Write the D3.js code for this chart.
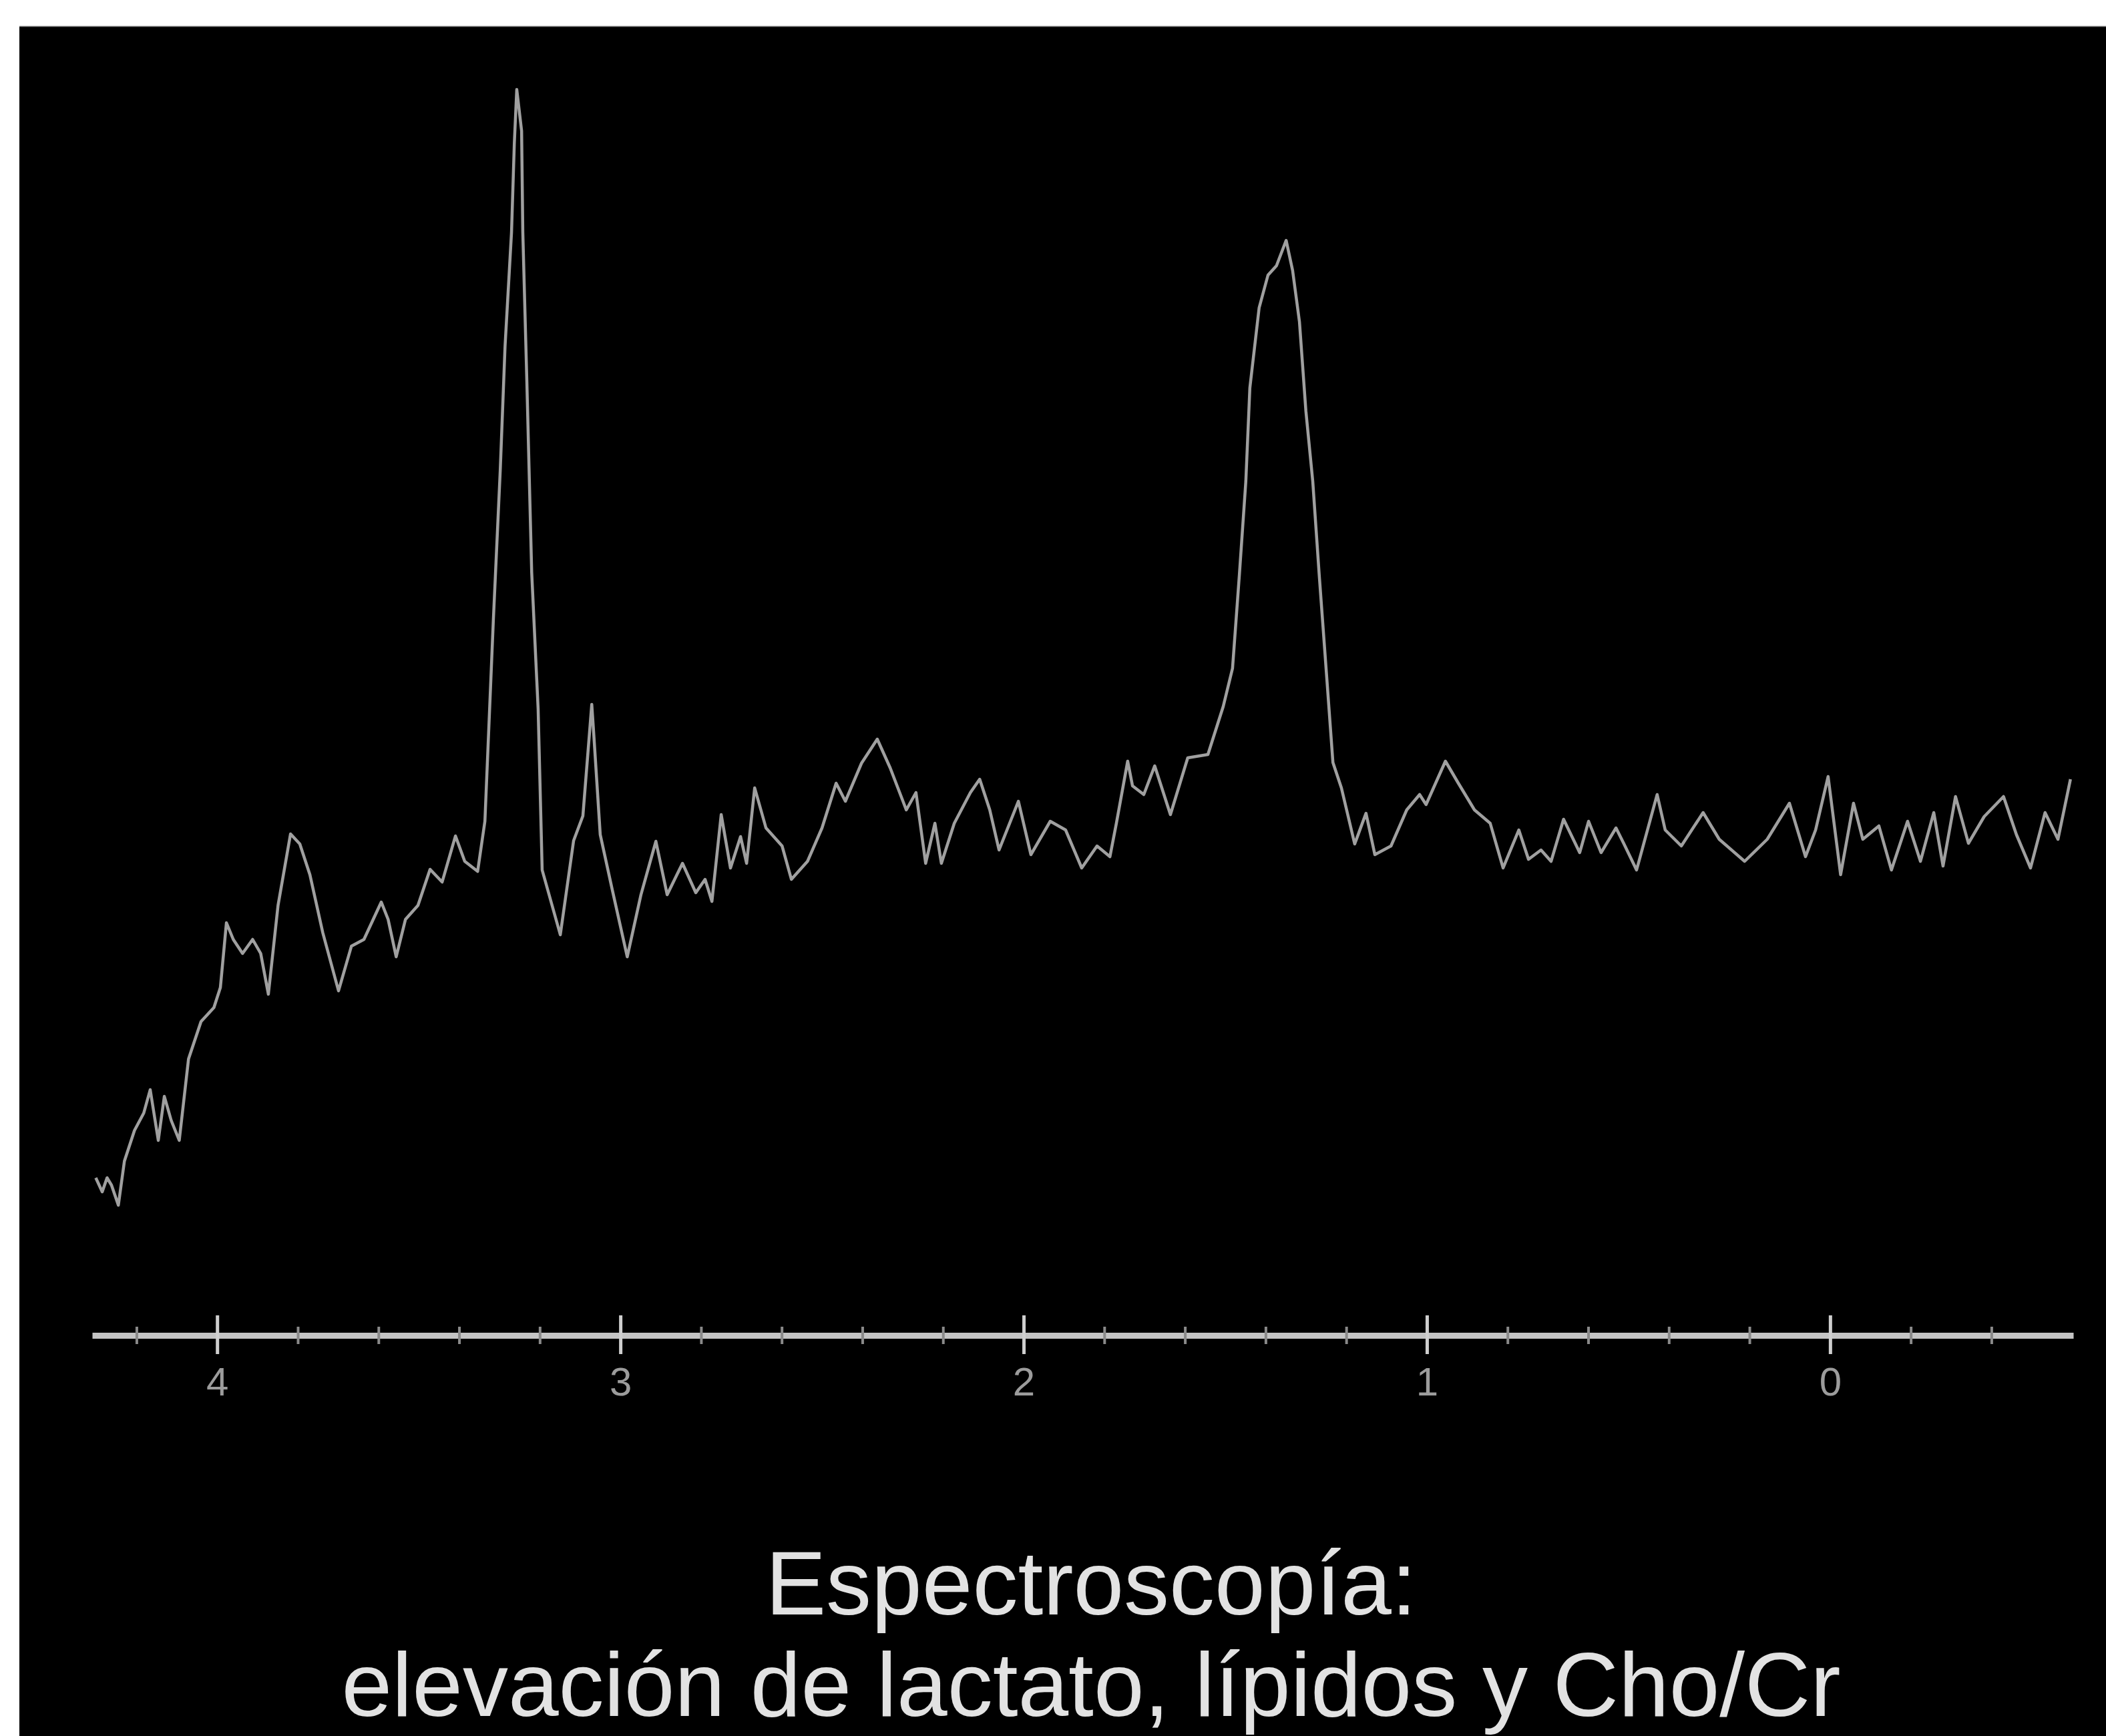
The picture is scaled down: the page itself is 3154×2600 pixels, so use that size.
<!DOCTYPE html>
<html>
<head>
<meta charset="utf-8">
<script src="https://cdn.jsdelivr.net/npm/d3@7"></script>
<style>
  body { margin: 0; background: #fff; }
  .chart svg { display: block; }
</style>
</head>
<body>
<div class="chart"></div>
<script>
// Chemical shift (ppm) of each traced point, left to right
var ppm = [
  4.301, 4.285, 4.273, 4.262, 4.245, 4.230, 4.205, 4.182, 4.166, 4.146,
  4.131, 4.114, 4.094, 4.071, 4.040, 4.008, 3.992, 3.977, 3.960, 3.937,
  3.912, 3.892, 3.873, 3.849, 3.818, 3.795, 3.770, 3.738, 3.699, 3.667,
  3.636, 3.613, 3.593, 3.576, 3.556, 3.533, 3.502, 3.472, 3.442, 3.409,
  3.386, 3.354, 3.336, 3.315, 3.298, 3.286, 3.270, 3.263, 3.257, 3.245,
  3.242, 3.232, 3.220, 3.204, 3.194, 3.149, 3.116, 3.093, 3.071, 3.066,
  3.050, 3.020, 2.983, 2.949, 2.912, 2.884, 2.846, 2.813, 2.790, 2.773,
  2.750, 2.727, 2.702, 2.687, 2.667, 2.639, 2.599, 2.576, 2.536, 2.500,
  2.465, 2.442, 2.402, 2.363, 2.331, 2.291, 2.267, 2.243, 2.220, 2.204,
  2.172, 2.132, 2.109, 2.084, 2.061, 2.013, 1.982, 1.934, 1.896, 1.856,
  1.818, 1.786, 1.770, 1.742, 1.730, 1.702, 1.675, 1.636, 1.593, 1.543,
  1.505, 1.482, 1.465, 1.449, 1.439, 1.416, 1.394, 1.373, 1.349, 1.333,
  1.316, 1.300, 1.283, 1.267, 1.250, 1.233, 1.212, 1.179, 1.151, 1.129,
  1.089, 1.050, 1.018, 1.002, 0.954, 0.922, 0.882, 0.843, 0.811, 0.772,
  0.748, 0.717, 0.692, 0.661, 0.621, 0.599, 0.568, 0.531, 0.512, 0.480,
  0.429, 0.409, 0.369, 0.315, 0.275, 0.212, 0.156, 0.101, 0.061, 0.036,
  0.005, -0.026, -0.058, -0.081, -0.121, -0.152, -0.192, -0.224, -0.257, -0.280,
  -0.311, -0.343, -0.382, -0.430, -0.462, -0.497, -0.533, -0.565, -0.596
];

// Signal amplitude (arbitrary units) at each point
var amplitude = [
  23.6, 21.5, 23.6, 22.5, 19.5, 26.1, 30.7, 33.3, 36.8, 29.2,
  35.8, 32.2, 29.2, 41.4, 47.0, 49.1, 52.1, 61.8, 59.3, 57.2,
  59.3, 57.2, 51.1, 64.4, 75.1, 73.6, 69.0, 60.3, 51.6, 58.3,
  59.3, 62.3, 64.9, 62.3, 56.7, 62.3, 64.4, 69.8, 67.9, 74.8,
  71.0, 69.5, 77.0, 107.2, 129.5, 148.2, 165.2, 178.6, 186.6, 180.4,
  165.2, 142.9, 114.3, 93.8, 69.7, 60.0, 74.1, 77.8, 94.5, 90.0,
  75.0, 66.7, 56.7, 66.0, 74.0, 66.0, 70.7, 66.3, 68.3, 65.0,
  78.0, 70.0, 74.7, 70.7, 82.0, 76.0, 73.3, 68.3, 71.0, 76.0,
  82.7, 80.0, 85.7, 89.3, 85.0, 78.7, 81.3, 70.7, 76.7, 70.7,
  76.7, 81.3, 83.3, 78.7, 72.7, 80.0, 72.0, 77.0, 75.7, 70.0,
  73.3, 71.7, 76.7, 86.0, 82.3, 81.0, 85.3, 78.0, 86.5, 87.0,
  94.2, 99.9, 113.9, 127.9, 141.9, 153.9, 158.8, 160.2, 164.0, 159.5,
  151.8, 138.4, 127.9, 113.9, 99.9, 85.8, 82.0, 73.6, 78.2, 72.0,
  73.3, 78.7, 81.0, 79.5, 86.0, 82.7, 78.7, 76.7, 70.0, 75.7,
  71.3, 72.7, 71.0, 77.3, 72.3, 77.0, 72.3, 76.0, 73.7, 69.7,
  81.0, 75.7, 73.3, 78.3, 74.3, 71.0, 74.3, 79.7, 71.7, 75.7,
  83.7, 69.0, 79.7, 74.3, 76.3, 69.7, 77.0, 71.0, 78.3, 70.3,
  80.7, 73.7, 77.7, 80.7, 75.0, 70.0, 78.3, 74.3, 83.3
];

var majorTicks = [4, 3, 2, 1, 0];
var majorLabels = ["4", "3", "2", "1", "0"];
var minorTicks = [4.2, 3.8, 3.6, 3.4, 3.2, 2.8, 2.6, 2.4, 2.2, 1.8, 1.6, 1.4, 1.2,
  0.8, 0.6, 0.4, 0.2, -0.2, -0.4];

var titleLines = ["Espectroscopía:", "elevación de lactato, lípidos y Cho/Cr"];

var svgWidth = 3154;
var svgHeight = 2600;

var svg = d3.select(".chart")
  .append("svg")
  .attr("width", svgWidth)
  .attr("height", svgHeight);

// white page with the black panel of the scanner screenshot
svg.append("rect")
  .attr("width", svgWidth)
  .attr("height", svgHeight)
  .attr("fill", "#fff");

svg.append("rect")
  .attr("x", 29)
  .attr("y", 39)
  .attr("width", svgWidth - 29)
  .attr("height", svgHeight - 39)
  .attr("fill", "#000");

svg.append("line")
  .attr("x1", 29).attr("x2", svgWidth)
  .attr("y1", 39.5).attr("y2", 39.5)
  .attr("stroke", "#888")
  .attr("stroke-width", 1.5);

// Scales: ppm runs right to left, as usual for spectra
var xScale = d3.scaleLinear()
  .domain([4.31, -0.603])
  .range([138, 3105]);

var yScale = d3.scaleLinear()
  .domain([0, 190])
  .range([2000, 100]);

var axisY = yScale(0);

// Axis line with small minor ticks every 0.2 ppm
var axisGroup = svg.append("g")
  .attr("transform", `translate(0, ${axisY})`);

var minorAxis = d3.axisBottom(xScale)
  .tickValues(minorTicks)
  .tickFormat("")
  .tickSizeOuter(0);

var minorG = axisGroup.append("g").call(minorAxis);
minorG.select(".domain")
  .attr("stroke", "#c4c4c4")
  .attr("stroke-width", 9);
minorG.selectAll(".tick line")
  .attr("y1", -13)
  .attr("y2", 13)
  .attr("stroke", "#8a8a8a")
  .attr("stroke-width", 4);

var majorAxis = d3.axisBottom(xScale)
  .tickValues(majorTicks)
  .tickFormat((d, i) => majorLabels[i])
  .tickSizeOuter(0);

var majorG = axisGroup.append("g").call(majorAxis);
majorG.select(".domain").remove();
majorG.selectAll(".tick line")
  .attr("y1", -30)
  .attr("y2", 28)
  .attr("stroke", "#cfcfcf")
  .attr("stroke-width", 5);
majorG.selectAll(".tick text")
  .attr("y", 90)
  .attr("dy", 0)
  .attr("fill", "#9c9c9c")
  .style("font-family", "'Liberation Sans', Arial, sans-serif")
  .style("font-size", "60px");

// Spectrum trace
var points = ppm.map((p, i) => ({ ppm: p, amp: amplitude[i] }));

var spectrumLine = d3.line()
  .x(d => xScale(d.ppm))
  .y(d => yScale(d.amp));

svg.append("path")
  .datum(points)
  .attr("d", spectrumLine)
  .attr("fill", "none")
  .attr("stroke", "#a0a0a0")
  .attr("stroke-width", 4.5)
  .attr("stroke-linejoin", "round");

// Caption
svg.selectAll(".title")
  .data(titleLines)
  .enter()
  .append("text")
  .attr("class", "title")
  .attr("x", 1634)
  .attr("y", (d, i) => 2418 + i * 152)
  .attr("text-anchor", "middle")
  .attr("fill", "#e2e2e2")
  .style("font-family", "'Liberation Sans', Arial, sans-serif")
  .style("font-size", "136px")
  .text(d => d);
</script>
</body>
</html>
